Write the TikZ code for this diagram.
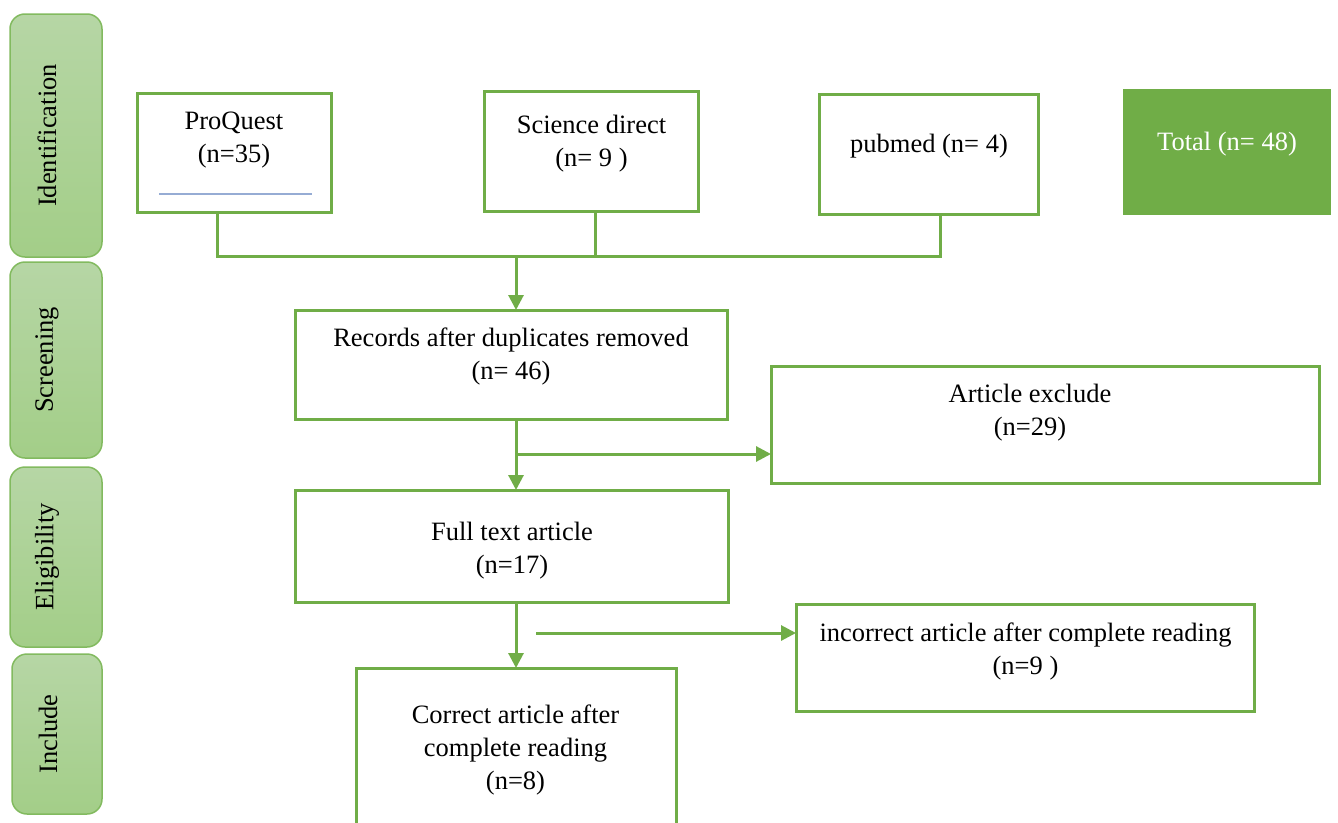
\documentclass[tikz,border=0pt]{standalone}
\usepackage{fontspec}
\setmainfont{Liberation Serif}
\usetikzlibrary{arrows.meta,calc}
\definecolor{og}{RGB}{112,173,71}
\definecolor{barTop}{RGB}{182,214,165}
\definecolor{barBot}{RGB}{163,206,136}
\definecolor{barLine}{RGB}{130,186,95}
\definecolor{blueline}{RGB}{150,172,212}
\tikzset{
  box/.style={draw=og, line width=3pt, fill=white, inner sep=0pt, outer sep=0pt},
  txt/.style={font=\fontsize{26.5}{33}\selectfont, align=center, inner sep=0pt, text=black, yshift=-2.5pt},
  stagebar/.style={draw=barLine, line width=1.5pt, rounded corners=15pt, top color=barTop, bottom color=barBot, inner sep=0pt, outer sep=0pt},
  stagetxt/.style={font=\fontsize{26.5}{33}\selectfont, rotate=90, inner sep=0pt},
  conn/.style={draw=og, line width=3pt},
  arr/.style={conn, -{Triangle[length=15pt,width=15pt]}}
}
\begin{document}
\begin{tikzpicture}[x=1pt,y=-1pt]
\useasboundingbox (0,0) rectangle (1338,822);
\clip (0,0) rectangle (1338,822);

% stage bars
\node[stagebar, minimum width=92pt, minimum height=243pt] (s1) at (56,135.5) {};
\node[stagebar, minimum width=92pt, minimum height=196pt] (s2) at (56,360) {};
\node[stagebar, minimum width=92pt, minimum height=180pt] (s3) at (56,557) {};
\node[stagebar, minimum width=90pt, minimum height=160pt] (s4) at (57,734) {};
\node[stagetxt] at ($(s1.center)+(-9,0)$) {Identification};
\node[stagetxt] at ($(s2.center)+(-9,0)$) {Screening};
\node[stagetxt] at ($(s3.center)+(-9,0)$) {Eligibility};
\node[stagetxt] at ($(s4.center)+(-9,0)$) {Include};

% boxes
\node[box, minimum width=194pt, minimum height=119pt] (pq) at (234,152.5) {};
\node[box, minimum width=214pt, minimum height=120pt] (sd) at (591,151) {};
\node[box, minimum width=219pt, minimum height=120pt] (pm) at (928.5,154) {};
\node[fill=og, inner sep=0pt, minimum width=208pt, minimum height=126pt] (tot) at (1227,152) {};
\node[box, minimum width=432pt, minimum height=109pt] (rec) at (511,364.5) {};
\node[box, minimum width=548pt, minimum height=117pt] (excl) at (1045,424.5) {};
\node[box, minimum width=433pt, minimum height=112pt] (full) at (511.5,546) {};
\node[box, minimum width=458pt, minimum height=107pt] (inc) at (1025,657.5) {};
\node[box, minimum width=320pt, minimum height=180pt, anchor=north] (cor) at (516,668) {};

% texts
\node[txt] at (234,138) {ProQuest\\(n=35)};
\draw[blueline, line width=2pt] (159,194) -- (312,194);
\node[txt] at (591.5,141) {Science direct\\(n= 9 )};
\node[txt] at (929,144) {pubmed (n= 4)};
\node[txt, text=white] at (1227,142) {Total (n= 48)};
\node[txt] at (511,353.5) {Records after duplicates removed\\(n= 46)};
\node[txt] at (1030,410) {Article exclude\\(n=29)};
\node[txt] at (512,548.5) {Full text article\\(n=17)};
\node[txt] at (1025.5,648.5) {incorrect article after complete reading\\(n=9 )};
\node[txt] at (515.5,747.5) {Correct article after\\complete reading\\(n=8)};

% connectors
\coordinate (j1) at (217,256);
\coordinate (j2) at (516,256);
\coordinate (j3) at (940,256);
\coordinate (js) at (595,256);
\coordinate (b1) at (516,454);
\coordinate (b2) at (536,633);
\draw[conn] (j1 |- pq.south) -- (j1) -- (j3) -- (j3 |- pm.south);
\draw[conn] (js |- sd.south) -- (js);
\draw[arr] (j2) -- (j2 |- rec.north);
\draw[arr] (j2 |- rec.south) -- (j2 |- full.north);
\draw[arr] (b1) -- (b1 -| excl.west);
\draw[arr] (j2 |- full.south) -- (j2 |- cor.north);
\draw[arr] (b2) -- (b2 -| inc.west);
\end{tikzpicture}
\end{document}
